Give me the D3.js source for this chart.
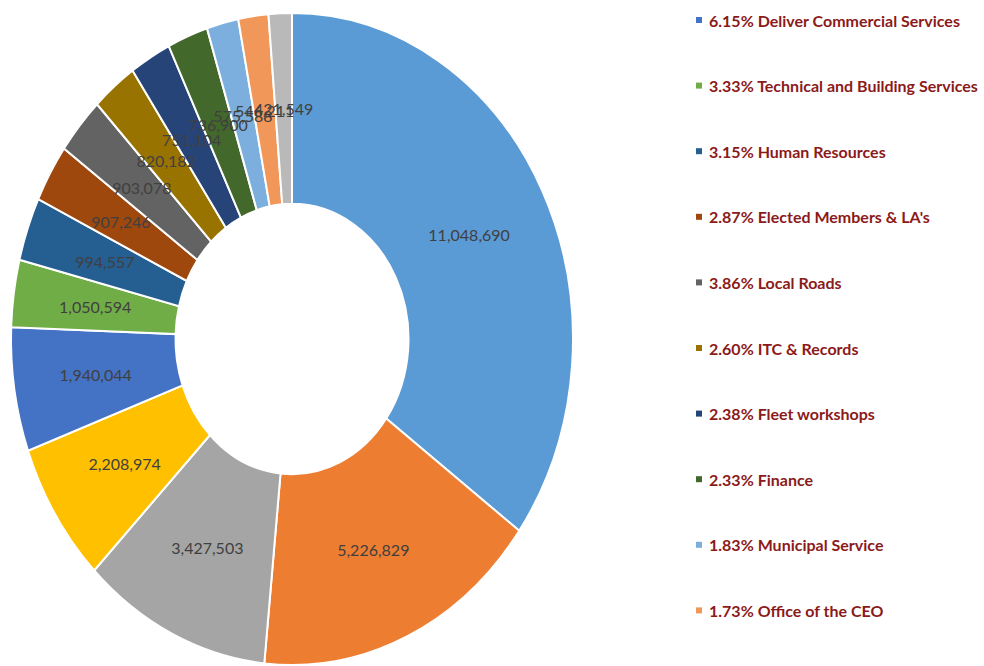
<!DOCTYPE html>
<html>
<head>
<meta charset="utf-8">
<script src="https://cdn.jsdelivr.net/npm/d3@7/dist/d3.min.js"></script>
<style>
  html, body { margin: 0; padding: 0; background: #fff; }
  svg { display: block; }
</style>
</head>
<body>
<svg id="chart" width="984" height="666"></svg>
<script>
// Budget by department, in order around the ring (clockwise from 12 o'clock)
const values = [11048690, 5226829, 3427503, 2208974, 1940044, 1050594, 994557,
                907246, 903078, 820182, 751104, 736900, 575588, 546211, 421549];
const colors = ["#5B9BD5", "#ED7D31", "#A5A5A5", "#FFC000", "#4472C4", "#70AD47",
                "#255E91", "#9E480E", "#636363", "#997300", "#264478", "#43682B",
                "#7CAFDD", "#F1975A", "#B9B9B9"];

// Legend entries (slice index, percentage text, department)
const legendIndex = [4, 5, 6, 7, 8, 9, 10, 11, 12, 13];
const legendPercent = ["6.15%", "3.33%", "3.15%", "2.87%", "3.86%", "2.60%",
                       "2.38%", "2.33%", "1.83%", "1.73%"];
const legendNames = ["Deliver Commercial Services", "Technical and Building Services",
                     "Human Resources", "Elected Members & LA's", "Local Roads",
                     "ITC & Records", "Fleet workshops", "Finance",
                     "Municipal Service", "Office of the CEO"];

const svg = d3.select("#chart");
const cx = 292, cy = 339;
const rOuter = 281, rInner = 116.5;
const yStretch = 326 / 281;   // the ring is drawn as an upright ellipse

const pie = d3.pie().sort(null).value(d => d);
const arcs = pie(values);
const arc = d3.arc().innerRadius(rInner).outerRadius(rOuter);
const fmt = d3.format(",");

const ring = svg.append("g")
  .attr("transform", `translate(${cx},${cy}) scale(1,${yStretch})`);

ring.selectAll("path")
  .data(arcs)
  .join("path")
  .attr("d", arc)
  .attr("fill", (d, i) => colors[i])
  .attr("stroke", "#fff")
  .attr("stroke-width", 2)
  .attr("vector-effect", "non-scaling-stroke");

// Value labels at the middle of each segment
const font = "Lato, 'Open Sans', sans-serif";
svg.append("g")
  .selectAll("text")
  .data(arcs)
  .join("text")
  .attr("x", d => cx + arc.centroid(d)[0])
  .attr("y", d => cy + arc.centroid(d)[1] * yStretch)
  .attr("text-anchor", "middle")
  .attr("dominant-baseline", "central")
  .attr("font-family", font)
  .attr("font-size", 16)
  .attr("fill", "#404040")
  .text(d => fmt(d.value));

// Legend
const legend = svg.append("g");
const legendTop = 20, legendStep = 65.6;
const items = legend.selectAll("g")
  .data(legendIndex)
  .join("g")
  .attr("transform", (d, i) => `translate(696,${legendTop + i * legendStep})`);

items.append("rect")
  .attr("x", 0).attr("y", -3)
  .attr("width", 6).attr("height", 6)
  .attr("fill", d => colors[d]);

items.append("text")
  .attr("x", 13)
  .attr("y", 0)
  .attr("dominant-baseline", "central")
  .attr("font-family", font)
  .attr("font-weight", "bold")
  .attr("font-size", 16)
  .attr("fill", "#8B1A1A")
  .text((d, i) => `${legendPercent[i]} ${legendNames[i]}`);
</script>
</body>
</html>
